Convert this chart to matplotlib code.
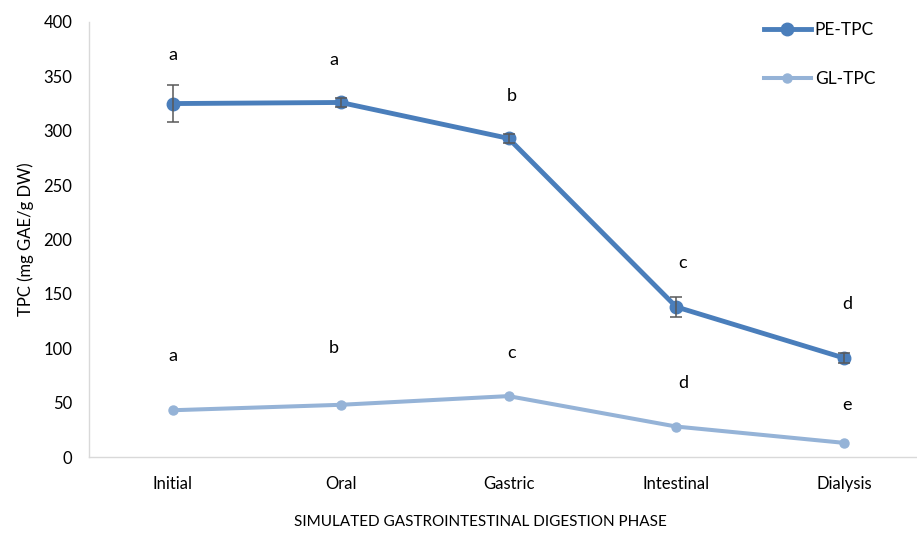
import matplotlib
matplotlib.use("Agg")
import matplotlib.pyplot as plt
import numpy as np

phases = ["Initial", "Oral", "Gastric", "Intestinal", "Dialysis"]
pe_tpc = [325, 326, 293, 138, 91]
pe_err = [17, 4, 4, 9, 5]
gl_tpc = [43, 48, 56, 28, 13]
pe_letters = ["a", "a", "b", "c", "d"]
pe_letter_y = [370, 365, 332, 178, 141]
gl_letters = ["a", "b", "c", "d", "e"]
gl_letter_y = [93, 100, 96, 68, 48]
letter_dx = [0, -0.04, 0.02, 0.04, 0.02]

plt.rcParams['font.family'] = ['Lato', 'DejaVu Sans']

W, H = 917, 536
fig = plt.figure(figsize=(W/100, H/100), dpi=100)
ax = fig.add_axes([89/W, 1-457/H, (928-89)/W, (457-22)/H])

x = np.arange(len(phases))
pe_c = "#4a7ebb"
gl_c = "#95b3d7"

ax.plot(x, gl_tpc, color=gl_c, lw=2.9, marker="o", ms=6.5, label="GL-TPC", zorder=3)
ax.errorbar(x, pe_tpc, yerr=pe_err, fmt="none", ecolor="#595959", elinewidth=1.1,
            capsize=4, capthick=1.1, zorder=4)
ax.plot(x, pe_tpc, color=pe_c, lw=3.5, marker="o", ms=9, label="PE-TPC", zorder=3)

for i in range(len(phases)):
    ax.text(x[i] + letter_dx[i], pe_letter_y[i], pe_letters[i], ha="center", va="center", fontsize=13)
    ax.text(x[i] + letter_dx[i], gl_letter_y[i], gl_letters[i], ha="center", va="center", fontsize=13)

ax.set_xlim(-0.5, 4.5)
ax.set_ylim(0, 400)
ax.set_yticks(np.arange(0, 401, 50))
ax.set_xticks(x)
ax.set_xticklabels(phases)
ax.tick_params(axis="both", length=0, labelsize=12, colors="#000000")
ax.tick_params(axis="x", pad=14)
ax.tick_params(axis="y", pad=12)
for s in ["top", "right"]:
    ax.spines[s].set_visible(False)
for s in ["left", "bottom"]:
    ax.spines[s].set_color("#d9d9d9")
    ax.spines[s].set_linewidth(1)

ax.set_ylabel("TPC (mg GAE/g DW)", fontsize=12, labelpad=7)
fig.text(480/W, 1-522/H, "SIMULATED GASTROINTESTINAL DIGESTION PHASE", ha="center", va="center", fontsize=11)

handles, labels = ax.get_legend_handles_labels()
leg = fig.legend(handles[::-1], labels[::-1], loc="upper left", bbox_to_anchor=(748/W, 1-6/H),
                 frameon=False, fontsize=12.5, labelspacing=1.9, handlelength=2.7, handletextpad=0.25)

fig.savefig("out.png", dpi=100)
